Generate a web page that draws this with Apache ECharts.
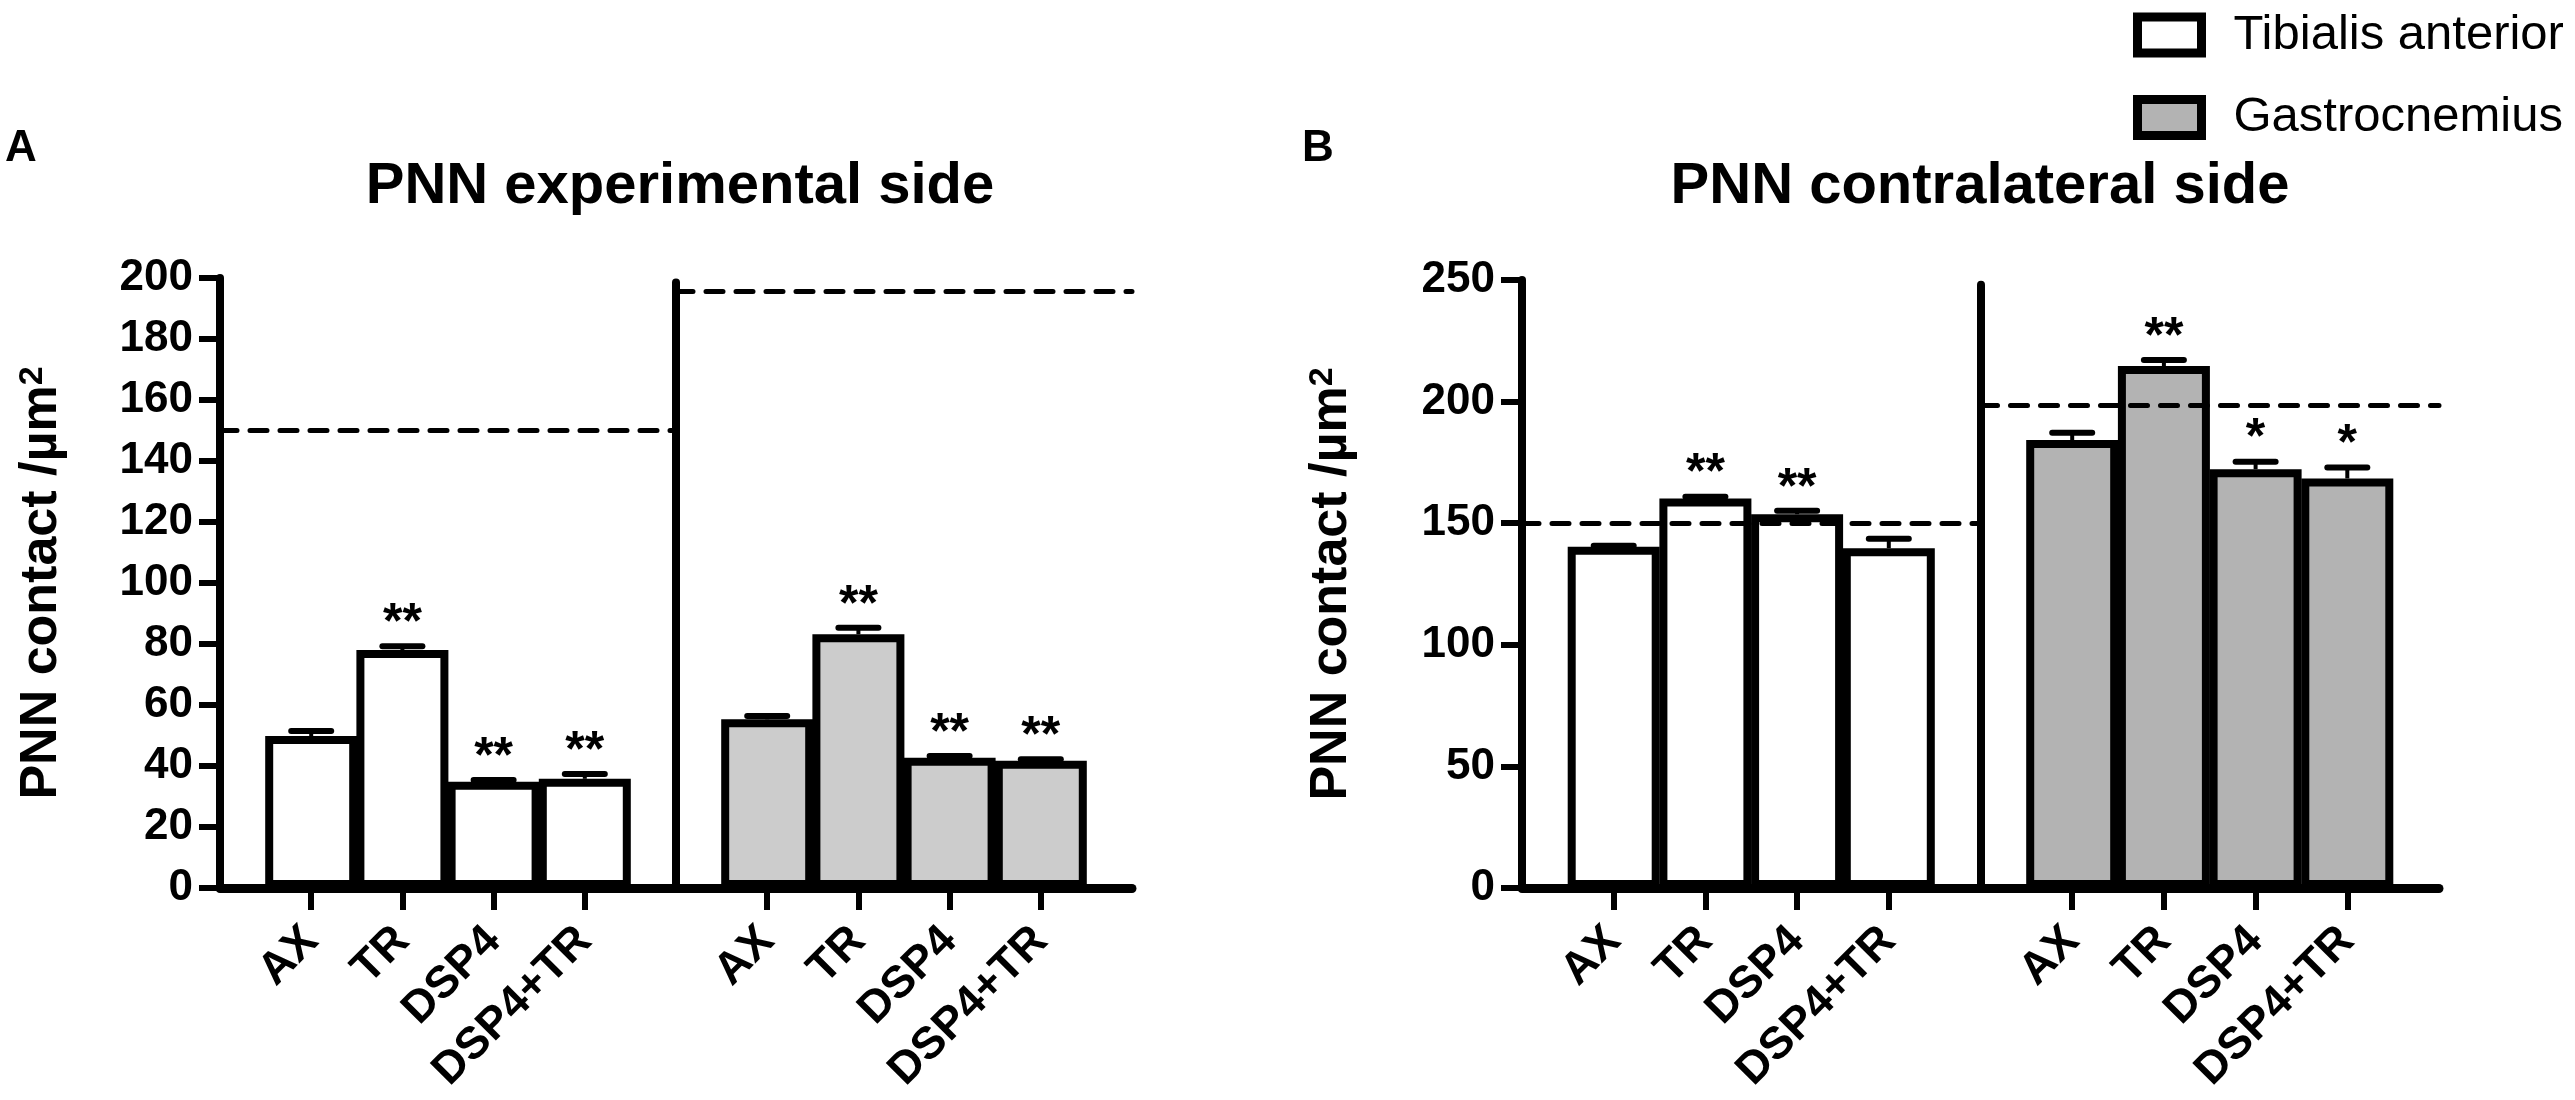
<!DOCTYPE html>
<html>
<head>
<meta charset="utf-8">
<title>PNN contact</title>
<script src="https://cdn.jsdelivr.net/npm/echarts@6/dist/echarts.min.js"></script>
<style>
  html, body { margin: 0; padding: 0; background: #fff; }
  #chart { width: 2575px; height: 1100px; }
</style>
</head>
<body>
<div id="chart"></div>
<script>
// groups along each half of the x axis
const groups = ['AX', 'TR', 'DSP4', 'DSP4+TR'];

// panel A: experimental side
const expTibialis = [49.8, 78, 34.8, 35.8];
const expTibialisErr = [1.7, 1.3, 0.6, 1.6];
const expTibialisStars = ['', '**', '**', '**'];
const expGastro = [55.3, 83.2, 42.7, 41.7];
const expGastroErr = [1.1, 2.1, 0.6, 0.5];
const expGastroStars = ['', '**', '**', '**'];
const expRefLines = [150, 195.5];
const expTicks = [0, 200, 20];

// panel B: contralateral side
const conTibialis = [140.3, 160.2, 153.7, 139.7];
const conTibialisErr = [0.4, 0.7, 1.4, 3.9];
const conTibialisStars = ['', '**', '**', ''];
const conGastro = [184.2, 214.6, 172.2, 168.4];
const conGastroErr = [3, 2.5, 3.1, 4.5];
const conGastroStars = ['', '**', '*', '*'];
const conRefLines = [150, 198.5];
const conTicks = [0, 250, 50];

const FONT = 'Liberation Sans, Arial, sans-serif';

// one empty slot at each end and one in the middle (where the divider goes)
const slots = ['', ...groups, '', ...groups, ''];
const MID = groups.length + 1;

function leftSlots(vals) {
  return ['-', ...vals, ...new Array(slots.length - vals.length - 1).fill('-')];
}
function rightSlots(vals) {
  return [...new Array(MID + 1).fill('-'), ...vals, '-'];
}

function xAxisFor(grid) {
  return {
    type: 'category',
    gridIndex: grid,
    data: slots,
    boundaryGap: false,
    axisLine: { show: true, lineStyle: { color: '#000', width: 9 } },
    axisTick: {
      show: true,
      length: 22,
      interval: (i, v) => v !== '',
      lineStyle: { color: '#000', width: 6 }
    },
    axisLabel: {
      interval: 0,
      rotate: 45,
      margin: 46,
      color: '#000',
      fontFamily: FONT,
      fontWeight: 'bold',
      fontSize: 45
    },
    splitLine: { show: false }
  };
}

function yAxisFor(grid, ticks, gap) {
  return {
    type: 'value',
    gridIndex: grid,
    min: ticks[0],
    max: ticks[1],
    interval: ticks[2],
    name: '{t|PNN contact /µm}{s|2}',
    nameLocation: 'middle',
    nameGap: gap,
    nameTextStyle: {
      rich: {
        t: { fontFamily: FONT, fontWeight: 'bold', fontSize: 52, color: '#000' },
        s: { fontFamily: FONT, fontWeight: 'bold', fontSize: 34, color: '#000', verticalAlign: 'top' }
      }
    },
    axisLine: { show: true, lineStyle: { color: '#000', width: 8 } },
    axisTick: { show: true, length: 21, lineStyle: { color: '#000', width: 6 } },
    axisLabel: {
      margin: 27,
      color: '#000',
      fontFamily: FONT,
      fontWeight: 'bold',
      fontSize: 44
    },
    splitLine: { show: false }
  };
}

function barSeries(name, grid, data, color) {
  return {
    type: 'bar',
    name: name,
    xAxisIndex: grid,
    yAxisIndex: grid,
    data: data,
    barWidth: 92,
    barGap: '-100%',
    itemStyle: { color: color, borderColor: '#000', borderWidth: 8 },
    z: 2
  };
}

function errorSeries(grid, vals, errs, stars, offset, lines) {
  const data = vals.map((v, i) => [i + offset, v, errs[i]]);
  const s = {
    type: 'custom',
    xAxisIndex: grid,
    yAxisIndex: grid,
    z: 4,
    data: data,
    renderItem: function (params, api) {
      const x = api.value(0);
      const m = api.value(1);
      const e = api.value(2);
      const base = api.coord([x, m]);
      const top = api.coord([x, m + e]);
      const children = [
        { type: 'line', shape: { x1: base[0], y1: base[1], x2: top[0], y2: top[1] },
          style: { stroke: '#000', lineWidth: 4 } },
        { type: 'line', shape: { x1: top[0] - 20, y1: top[1], x2: top[0] + 20, y2: top[1] },
          style: { stroke: '#000', lineWidth: 6, lineCap: 'round' } }
      ];
      const star = stars[params.dataIndex];
      if (star) {
        children.push({
          type: 'text',
          x: top[0],
          y: top[1] - 22,
          style: {
            text: star,
            fill: '#000',
            font: 'bold 50px ' + FONT,
            align: 'center',
            verticalAlign: 'middle'
          }
        });
      }
      return { type: 'group', children: children };
    }
  };
  if (lines) s.markLine = lines;
  return s;
}

function refLines(levels, dividerTop) {
  const dash = { color: '#000', width: 5, type: [17, 13], cap: 'round' };
  return {
    silent: true,
    symbol: ['none', 'none'],
    label: { show: false },
    animation: false,
    data: [
      [{ coord: [0, levels[0]], lineStyle: dash }, { coord: [MID, levels[0]] }],
      [{ coord: [MID, levels[1]], lineStyle: dash }, { coord: [slots.length - 1, levels[1]] }],
      [{ coord: [MID, 0], lineStyle: { color: '#000', width: 8, type: 'solid', cap: 'round' } },
       { coord: [MID, dividerTop] }]
    ]
  };
}

const chart = echarts.init(document.getElementById('chart'));

const option = {
  animation: false,
  backgroundColor: '#fff',
  grid: [
    { left: 220, right: 1443, top: 278, bottom: 212, containLabel: false },
    { left: 1522, right: 136, top: 280, bottom: 212, containLabel: false }
  ],
  xAxis: [xAxisFor(0), xAxisFor(1)],
  yAxis: [yAxisFor(0, expTicks, 152), yAxisFor(1, conTicks, 164)],
  legend: {
    orient: 'vertical',
    left: 2133,
    top: 10.5,
    padding: 0,
    icon: 'rect',
    itemWidth: 64,
    itemHeight: 36,
    itemGap: 33.5,
    selectedMode: false,
    itemStyle: { borderColor: '#000', borderWidth: 9 },
    textStyle: { fontFamily: FONT, fontSize: 49, color: '#000', lineHeight: 36, padding: [0, 0, 0, 27] },
    data: [
      { name: 'Tibialis anterior', itemStyle: { color: '#ffffff' } },
      { name: 'Gastrocnemius', itemStyle: { color: '#b3b3b3' } }
    ]
  },
  graphic: [
    { type: 'text', x: 5, y: 149, style: { text: 'A', fill: '#000', font: 'bold 44px ' + FONT, align: 'left', verticalAlign: 'middle' } },
    { type: 'text', x: 1302, y: 149, style: { text: 'B', fill: '#000', font: 'bold 44px ' + FONT, align: 'left', verticalAlign: 'middle' } },
    { type: 'text', x: 680, y: 187, style: { text: 'PNN experimental side', fill: '#000', font: 'bold 58px ' + FONT, align: 'center', verticalAlign: 'middle' } },
    { type: 'text', x: 1980, y: 187, style: { text: 'PNN contralateral side', fill: '#000', font: 'bold 58px ' + FONT, align: 'center', verticalAlign: 'middle' } }
  ],
  series: [
    barSeries('Tibialis anterior', 0, leftSlots(expTibialis), '#ffffff'),
    barSeries('Gastrocnemius', 0, rightSlots(expGastro), '#cccccc'),
    errorSeries(0, expTibialis, expTibialisErr, expTibialisStars, 1, refLines(expRefLines, 198.5)),
    errorSeries(0, expGastro, expGastroErr, expGastroStars, MID + 1),
    barSeries('Tibialis anterior', 1, leftSlots(conTibialis), '#ffffff'),
    barSeries('Gastrocnemius', 1, rightSlots(conGastro), '#b3b3b3'),
    errorSeries(1, conTibialis, conTibialisErr, conTibialisStars, 1, refLines(conRefLines, 248)),
    errorSeries(1, conGastro, conGastroErr, conGastroStars, MID + 1)
  ]
};

chart.setOption(option);
window.addEventListener('resize', () => chart.resize());
</script>
</body>
</html>
